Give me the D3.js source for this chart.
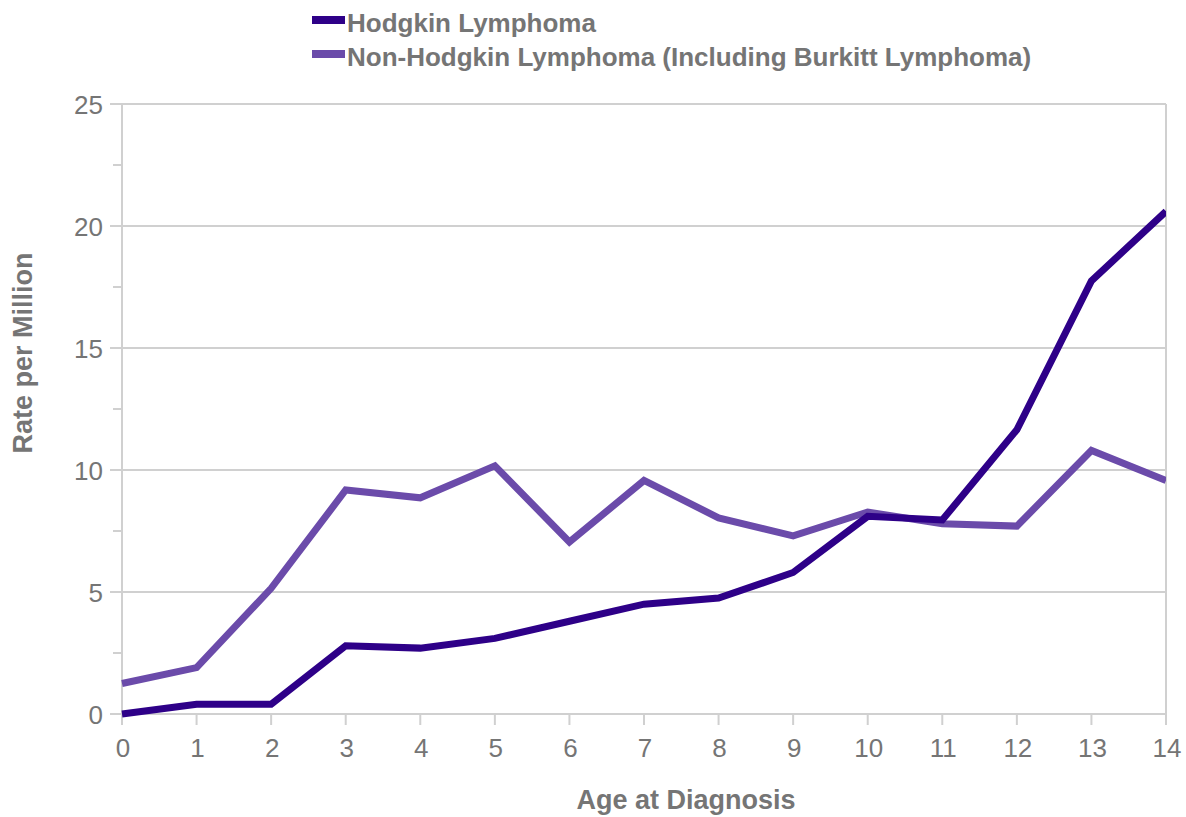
<!DOCTYPE html>
<html><head><meta charset="utf-8">
<script src="https://cdn.jsdelivr.net/npm/d3@7"></script>
<style>body{margin:0;background:#fff}svg{display:block}</style>
</head><body>
<svg id="c" width="1186" height="817"></svg>
<script>
const ages = [0,1,2,3,4,5,6,7,8,9,10,11,12,13,14];
const hodgkin = [0.0,0.4,0.4,2.8,2.7,3.1,3.8,4.5,4.75,5.8,8.1,7.95,11.65,17.75,20.6];
const nhl = [1.25,1.9,5.15,9.18,8.86,10.17,7.05,9.57,8.04,7.3,8.28,7.8,7.7,10.8,9.57];
const seriesNames = ["Hodgkin Lymphoma","Non-Hodgkin Lymphoma (Including Burkitt Lymphoma)"];
const seriesColors = ["#2e0088","#6b4baa"];
const yTicks = [0,5,10,15,20,25];
const yMinor = [2.5,7.5,12.5,17.5,22.5];

const svg = d3.select("#c");
const L=122, R=1166, T=104, B=714;
const x = d3.scaleLinear().domain([0,14]).range([L,R]);
const y = d3.scaleLinear().domain([0,25]).range([B,T]);
const grid="#d0d0d0", txt="#757575";
const FF="Liberation Sans, Arial, sans-serif";

svg.append("g").selectAll("line").data(yTicks).join("line")
  .attr("x1",L-12).attr("x2",R).attr("y1",d=>y(d)).attr("y2",d=>y(d))
  .attr("stroke",grid).attr("stroke-width",2);
svg.append("g").selectAll("line").data(yMinor).join("line")
  .attr("x1",L-9).attr("x2",L).attr("y1",d=>y(d)).attr("y2",d=>y(d))
  .attr("stroke",grid).attr("stroke-width",2);
svg.append("line").attr("x1",L).attr("x2",L).attr("y1",T).attr("y2",B+11).attr("stroke",grid).attr("stroke-width",2);
svg.append("line").attr("x1",R).attr("x2",R).attr("y1",T).attr("y2",B+11).attr("stroke",grid).attr("stroke-width",2);
svg.append("g").selectAll("line").data(ages).join("line")
  .attr("x1",d=>x(d)).attr("x2",d=>x(d)).attr("y1",B).attr("y2",B+11)
  .attr("stroke",grid).attr("stroke-width",2);

svg.append("g").selectAll("text").data(yTicks).join("text")
  .attr("x",103).attr("y",d=>y(d)+10).attr("text-anchor","end")
  .attr("font-family",FF).attr("font-size",26).attr("fill",txt)
  .text(d=>d);
svg.append("g").selectAll("text").data(ages).join("text")
  .attr("x",d=>x(d)+1).attr("y",757).attr("text-anchor","middle")
  .attr("font-family",FF).attr("font-size",26).attr("fill",txt)
  .text(d=>d);

svg.append("text").attr("x",686).attr("y",809).attr("text-anchor","middle")
  .attr("font-family",FF).attr("font-weight","bold")
  .attr("font-size",27).attr("fill",txt).text("Age at Diagnosis");
svg.append("text").attr("transform","translate(32,353) rotate(-90)").attr("text-anchor","middle")
  .attr("font-family",FF).attr("font-weight","bold")
  .attr("font-size",27).attr("fill",txt).text("Rate per Million");

const line = d3.line().x((d,i)=>x(ages[i])).y(d=>y(d));
svg.append("clipPath").attr("id","cp").append("rect")
  .attr("x",L-4).attr("y",T-10).attr("width",R-L+4).attr("height",B-T+20);
[nhl,hodgkin].forEach((s,k)=>{
  const idx = k===0?1:0;
  svg.append("path").attr("d",line(s)).attr("fill","none")
    .attr("stroke",seriesColors[idx]).attr("stroke-width",7)
    .attr("stroke-linejoin","miter").attr("clip-path","url(#cp)");
});

const lg = svg.append("g");
seriesNames.forEach((n,i)=>{
  const yy = 20 + i*34;
  lg.append("rect").attr("x",312).attr("y",yy-4).attr("width",33).attr("height",8).attr("fill",seriesColors[i]);
  lg.append("text").attr("x",347).attr("y",yy+12)
    .attr("font-family",FF).attr("font-weight","bold")
    .attr("font-size",26).attr("fill",txt).text(n);
});
</script>
</body></html>
